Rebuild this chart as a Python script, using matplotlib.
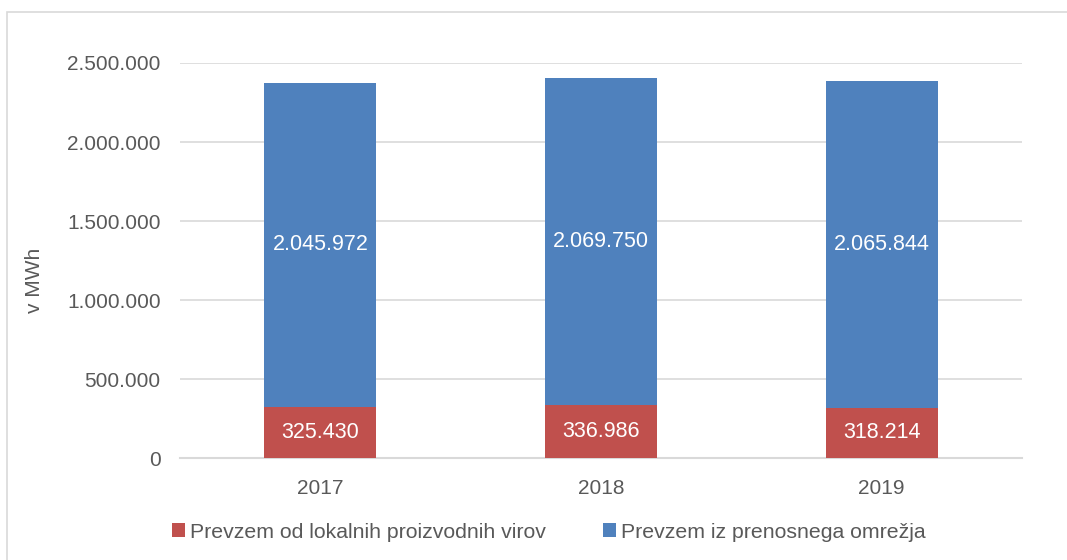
import matplotlib.pyplot as plt
from matplotlib.patches import Rectangle
import numpy as np

plt.rcParams['font.family'] = ['Liberation Sans', 'DejaVu Sans']

years = ['2017', '2018', '2019']
lokalni = [325430, 336986, 318214]
prenosno = [2045972, 2069750, 2065844]
yticks = [0, 500000, 1000000, 1500000, 2000000, 2500000]

RED = '#C0504D'
BLUE = '#4F81BD'
TXT = '#595959'
GRID = '#D9D9D9'


def fmt(v):
    # slovenski zapis: pika kot ločilo tisočic
    return f"{v:,.0f}".replace(',', '.')


fig = plt.figure(figsize=(10.67, 5.6), dpi=100)
ax = fig.add_axes([0.1687, 0.1821, 0.7891, 0.7054])

x = np.arange(len(years))
b1 = ax.bar(x, lokalni, width=0.4, color=RED, label='Prevzem od lokalnih proizvodnih virov', zorder=3)
b2 = ax.bar(x, prenosno, width=0.4, bottom=lokalni, color=BLUE, label='Prevzem iz prenosnega omrežja', zorder=3)

for i in range(len(years)):
    ax.text(x[i], lokalni[i] / 2, fmt(lokalni[i]), ha='center', va='center',
            color='white', fontsize=15.5, zorder=4)
    ax.text(x[i], lokalni[i] + prenosno[i] / 2, fmt(prenosno[i]), ha='center', va='center',
            color='white', fontsize=15.5, zorder=4)

ax.set_xlim(-0.5, 2.5)
ax.set_ylim(0, 2500000)
ax.set_yticks(yticks)
ax.set_yticklabels([fmt(v) for v in yticks])
ax.set_xticks(x)
ax.set_xticklabels(years)
ax.tick_params(axis='both', length=0, colors=TXT, labelsize=15)
ax.tick_params(axis='y', pad=14)
ax.tick_params(axis='x', pad=15)
ax.grid(axis='y', color=GRID, linewidth=1.2, zorder=0)
for s in ['top', 'right', 'left']:
    ax.spines[s].set_visible(False)
ax.spines['bottom'].set_color(GRID)
ax.spines['bottom'].set_linewidth(1.5)

fig.text(35 / 1067, 1 - 280 / 560, 'v MWh', rotation=90, ha='center', va='center',
         color=TXT, fontsize=15)

leg = fig.legend(handles=[b1, b2], loc='center', bbox_to_anchor=(0.5145, 1 - 532 / 560),
                 ncol=2, frameon=False, fontsize=15.3, handlelength=0.6, handleheight=0.6,
                 handletextpad=0.25, columnspacing=2.7)
for t in leg.get_texts():
    t.set_color(TXT)

# okvir grafikona
fig.patches.append(Rectangle((7 / 1067, -0.05), 1.1, 1 - 12 / 560 + 0.05,
                             transform=fig.transFigure, fill=False,
                             edgecolor='#D9D9D9', linewidth=1.2))

fig.savefig('out.png', dpi=100)
